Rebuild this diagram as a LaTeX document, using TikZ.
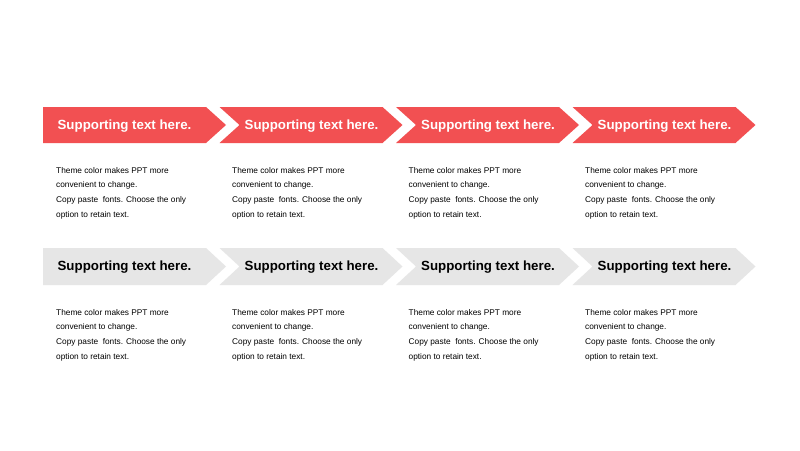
\documentclass[tikz,border=0pt]{standalone}
\usepackage{fontspec}
\setmainfont{Liberation Sans}
\definecolor{themered}{RGB}{242,80,82}
\definecolor{themegray}{RGB}{230,230,230}
\begin{document}
\begin{tikzpicture}[x=1pt,y=-1pt,
  redfill/.style={fill=themered,draw=none},
  grayfill/.style={fill=themegray,draw=none},
  headred/.style={font=\fontsize{13.3}{15}\selectfont\bfseries,text=white,inner sep=0pt,anchor=center},
  headgray/.style={font=\fontsize{13.3}{15}\selectfont\bfseries,text=black,inner sep=0pt,anchor=center},
  bodytext/.style={font=\fontsize{8.3}{14.7}\selectfont,text=black,align=left,inner sep=0pt,anchor=north west}]
\useasboundingbox[fill=white] (0,0) rectangle (800,450);
% row 1
\foreach \i in {0,1,2,3}{
  \pgfmathsetmacro{\xo}{43+176.5*\i}
  \ifnum\i=0
    \fill[redfill] (\xo,107) -- (\xo+163,107) -- (\xo+183,125) -- (\xo+163,143) -- (\xo,143) -- cycle;
    \fill[grayfill] (\xo,248) -- (\xo+163,248) -- (\xo+183,266.5) -- (\xo+163,285) -- (\xo,285) -- cycle;
  \else
    \fill[redfill] (\xo,107) -- (\xo+163,107) -- (\xo+183,125) -- (\xo+163,143) -- (\xo,143) -- (\xo+20,125) -- cycle;
    \fill[grayfill] (\xo,248) -- (\xo+163,248) -- (\xo+183,266.5) -- (\xo+163,285) -- (\xo,285) -- (\xo+20,266.5) -- cycle;
  \fi
}
\node[headred] (h1) at (124.5,125.8) {Supporting text here.};
\node[headred] (h2) at (311.5,125.8) {Supporting text here.};
\node[headred] (h3) at (488,125.8) {Supporting text here.};
\node[headred] (h4) at (664.5,125.8) {Supporting text here.};
\node[headgray] (g1) at (124.5,267.3) {Supporting text here.};
\node[headgray] (g2) at (311.5,267.3) {Supporting text here.};
\node[headgray] (g3) at (488,267.3) {Supporting text here.};
\node[headgray] (g4) at (664.5,267.3) {Supporting text here.};
\node[bodytext] (t1) at (56,167) {Theme color makes PPT more\\convenient to change.\\Copy paste\ \ fonts. Choose the only\\option to retain text.};
\node[bodytext] (t2) at (232,167) {Theme color makes PPT more\\convenient to change.\\Copy paste\ \ fonts. Choose the only\\option to retain text.};
\node[bodytext] (t3) at (408.5,167) {Theme color makes PPT more\\convenient to change.\\Copy paste\ \ fonts. Choose the only\\option to retain text.};
\node[bodytext] (t4) at (585,167) {Theme color makes PPT more\\convenient to change.\\Copy paste\ \ fonts. Choose the only\\option to retain text.};
\node[bodytext] (u1) at (56,309) {Theme color makes PPT more\\convenient to change.\\Copy paste\ \ fonts. Choose the only\\option to retain text.};
\node[bodytext] (u2) at (232,309) {Theme color makes PPT more\\convenient to change.\\Copy paste\ \ fonts. Choose the only\\option to retain text.};
\node[bodytext] (u3) at (408.5,309) {Theme color makes PPT more\\convenient to change.\\Copy paste\ \ fonts. Choose the only\\option to retain text.};
\node[bodytext] (u4) at (585,309) {Theme color makes PPT more\\convenient to change.\\Copy paste\ \ fonts. Choose the only\\option to retain text.};
\end{tikzpicture}
\end{document}
